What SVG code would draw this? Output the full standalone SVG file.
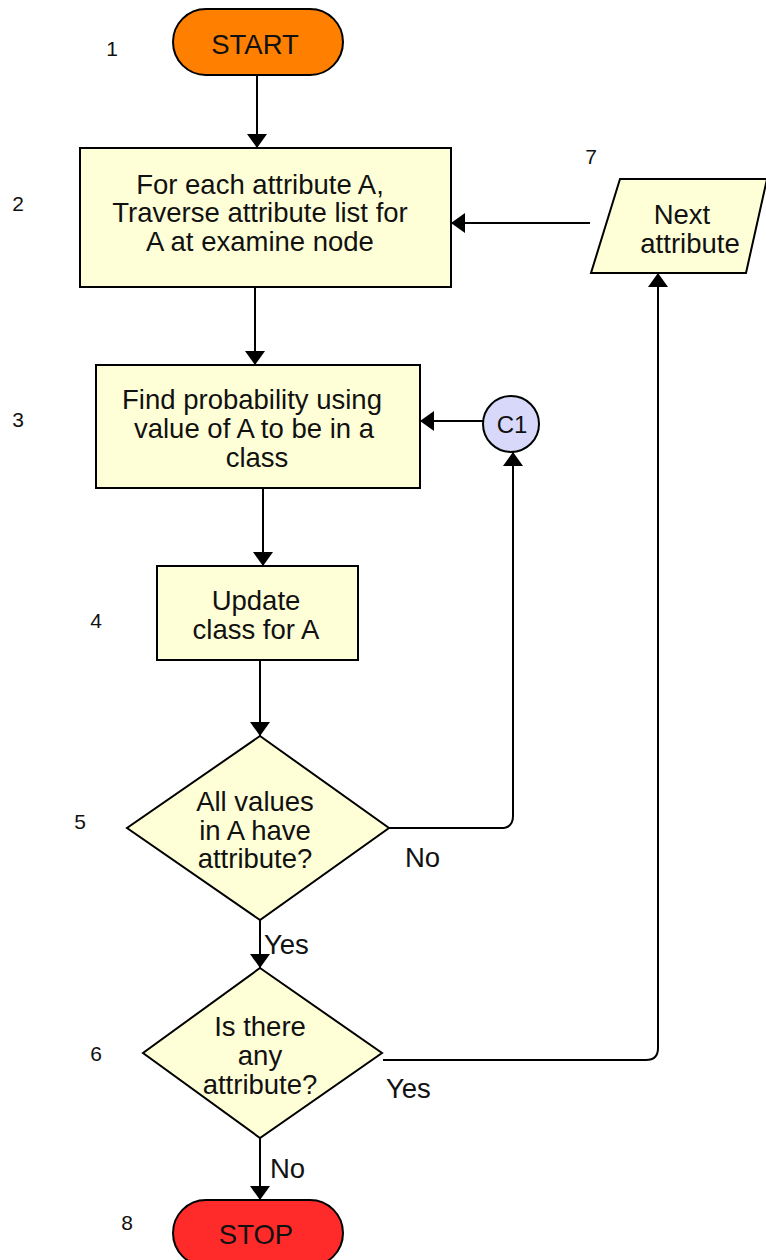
<svg xmlns="http://www.w3.org/2000/svg" width="766" height="1260" viewBox="0 0 766 1260">
  <style>
    .shape { stroke: #000; stroke-width: 2; }
    .proc { fill: #ffffd7; }
    .term-start { fill: #ff7f00; }
    .term-stop { fill: #ff2a2a; }
    .conn { fill: #d8d8fa; }
    .t { font-family: "Liberation Sans", Arial, sans-serif; font-size: 27.5px; fill: #111; text-anchor: middle; dominant-baseline: central; }
    .num { font-family: "Liberation Sans", Arial, sans-serif; font-size: 21px; fill: #111; text-anchor: middle; dominant-baseline: central; }
    .lbl { font-family: "Liberation Sans", Arial, sans-serif; font-size: 27.5px; fill: #111; dominant-baseline: central; }
    .edge { fill: none; stroke: #000; stroke-width: 2; }
  </style>
  <defs>
    <marker id="arrow" viewBox="0 0 14 20" refX="14" refY="10" markerWidth="14" markerHeight="20" markerUnits="userSpaceOnUse" orient="auto">
      <path d="M0,0 L14,10 L0,20 Z" fill="#000"/>
    </marker>
  </defs>
  <rect width="766" height="1260" fill="#fff"/>

  <!-- step numbers -->
  <g id="step-numbers">
    <text class="num" x="112" y="48">1</text>
    <text class="num" x="18" y="203">2</text>
    <text class="num" x="18" y="419">3</text>
    <text class="num" x="96" y="620">4</text>
    <text class="num" x="80" y="821">5</text>
    <text class="num" x="96" y="1053">6</text>
    <text class="num" x="591" y="156">7</text>
    <text class="num" x="127" y="1222">8</text>
  </g>

  <!-- connectors -->
  <g id="connectors">
    <path class="edge" d="M257,75 V148" marker-end="url(#arrow)"/>
    <path class="edge" d="M590,223 H451" marker-end="url(#arrow)"/>
    <path class="edge" d="M255,287 V365" marker-end="url(#arrow)"/>
    <path class="edge" d="M483,421 H420" marker-end="url(#arrow)"/>
    <path class="edge" d="M263,488 V566" marker-end="url(#arrow)"/>
    <path class="edge" d="M260,660 V736" marker-end="url(#arrow)"/>
    <path class="edge" d="M389,828 H501 Q513,828 513,816 V452" marker-end="url(#arrow)"/>
    <path class="edge" d="M260,920 V968" marker-end="url(#arrow)"/>
    <path class="edge" d="M383,1060 H646 Q658,1060 658,1048 V273" marker-end="url(#arrow)"/>
    <path class="edge" d="M260,1138 V1200" marker-end="url(#arrow)"/>
    <text class="lbl" x="405" y="857">No</text>
    <text class="lbl" x="264" y="944">Yes</text>
    <text class="lbl" x="386" y="1088">Yes</text>
    <text class="lbl" x="270" y="1168">No</text>
  </g>

  <g id="start">
    <rect class="shape term-start" x="173" y="9" width="170" height="66" rx="33"/>
    <text class="t" x="255" y="44">START</text>
  </g>

  <g id="traverse">
    <rect class="shape proc" x="80" y="148" width="371" height="139"/>
    <text class="t" x="260" y="184">For each attribute A,</text>
    <text class="t" x="260" y="212">Traverse attribute list for</text>
    <text class="t" x="260" y="241">A at examine node</text>
  </g>

  <g id="next-attribute">
    <polygon class="shape proc" points="620,179 767,179 746,273 591,273"/>
    <text class="t" x="682" y="214">Next</text>
    <text class="t" x="690" y="243">attribute</text>
  </g>

  <g id="probability">
    <rect class="shape proc" x="96" y="365" width="324" height="123"/>
    <text class="t" x="252" y="399">Find probability using</text>
    <text class="t" x="254" y="428">value of A to be in a</text>
    <text class="t" x="257" y="457">class</text>
  </g>

  <g id="c1">
    <circle class="shape conn" cx="511" cy="424" r="28"/>
    <text class="t" x="512" y="424" style="font-size:24px">C1</text>
  </g>

  <g id="update">
    <rect class="shape proc" x="157" y="566" width="201" height="94"/>
    <text class="t" x="256" y="600">Update</text>
    <text class="t" x="256" y="629">class for A</text>
  </g>

  <g id="all-values">
    <polygon class="shape proc" points="260,736 389,828 260,920 127,828"/>
    <text class="t" x="255" y="801">All values</text>
    <text class="t" x="255" y="830">in A have</text>
    <text class="t" x="255" y="858">attribute?</text>
  </g>

  <g id="any-attribute">
    <polygon class="shape proc" points="260,968 382,1053 260,1138 143,1053"/>
    <text class="t" x="260" y="1026">Is there</text>
    <text class="t" x="260" y="1055">any</text>
    <text class="t" x="260" y="1084">attribute?</text>
  </g>

  <g id="stop">
    <rect class="shape term-stop" x="173" y="1200" width="170" height="66" rx="33"/>
    <text class="t" x="256" y="1234">STOP</text>
  </g>
</svg>
